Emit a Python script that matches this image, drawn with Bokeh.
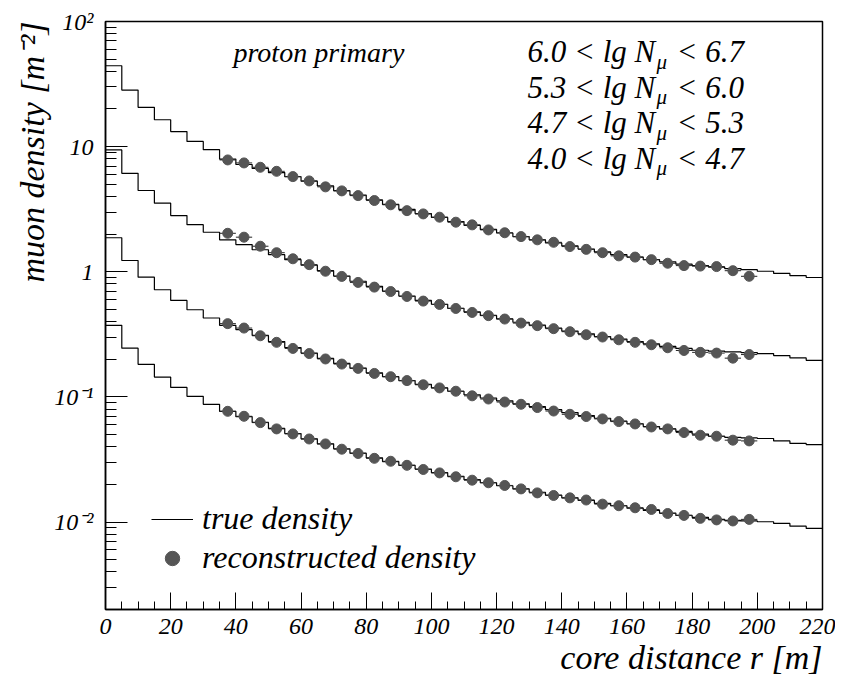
import numpy as np
from bokeh.plotting import figure
from bokeh.models import Range1d, FixedTicker, Label, Legend, LegendItem, Title
from bokeh.embed import file_html
from bokeh.resources import INLINE

# ---------------- data ----------------
bin_edges = list(range(0, 225, 5))          # 44 bins of 5 m, 0..220 m

true_1 = [44.3, 28.3, 20.6, 16.4, 13.2, 11.0, 9.45, 7.95, 7.2, 6.7,
          6.2, 5.75, 5.3, 4.85, 4.45, 4.1, 3.75, 3.45, 3.15, 2.92,
          2.72, 2.52, 2.35, 2.18, 2.04, 1.91, 1.80, 1.70, 1.61, 1.52,
          1.44, 1.37, 1.31, 1.25, 1.20, 1.15, 1.12, 1.09, 1.06, 1.04,
          1.01, 0.97, 0.93, 0.90]
true_2 = [9.41, 6.12, 4.46, 3.53, 2.81, 2.38, 2.07, 1.80, 1.65, 1.50,
          1.37, 1.25, 1.13, 1.02, 0.925, 0.84, 0.765, 0.70, 0.64, 0.59,
          0.55, 0.51, 0.478, 0.448, 0.42, 0.395, 0.374, 0.354, 0.336, 0.319,
          0.304, 0.290, 0.277, 0.265, 0.253, 0.244, 0.236, 0.232, 0.229, 0.226,
          0.222, 0.214, 0.205, 0.196]
true_3 = [1.87, 1.23, 0.906, 0.718, 0.590, 0.497, 0.427, 0.373, 0.345, 0.310,
          0.277, 0.248, 0.224, 0.203, 0.185, 0.170, 0.156, 0.145, 0.135, 0.126,
          0.118, 0.111, 0.104, 0.098, 0.093, 0.088, 0.0835, 0.079, 0.075, 0.071,
          0.0675, 0.064, 0.061, 0.058, 0.0555, 0.053, 0.0505, 0.0485, 0.0475, 0.047,
          0.0465, 0.0445, 0.0425, 0.0416]
true_4 = [0.373, 0.245, 0.182, 0.144, 0.119, 0.101, 0.0873, 0.0767, 0.0695, 0.0625,
          0.056, 0.051, 0.0462, 0.0422, 0.0385, 0.0355, 0.0326, 0.0304, 0.0284, 0.0265,
          0.0248, 0.0232, 0.0218, 0.0206, 0.0195, 0.0184, 0.0173, 0.0164, 0.0156, 0.0149,
          0.0141, 0.0135, 0.0129, 0.0124, 0.0118, 0.0113, 0.0109, 0.0105, 0.0103, 0.0102,
          0.01005, 0.00975, 0.00927, 0.00889]

reco_r = [37.5 + 5 * i for i in range(33)]   # bin centres 37.5 .. 197.5 m
reco_1 = [7.83, 7.41, 6.84, 6.35, 5.76, 5.32, 4.77, 4.43, 4.06, 3.71,
          3.43, 3.08, 2.90, 2.73, 2.49, 2.37, 2.16, 2.05, 1.91, 1.80,
          1.72, 1.59, 1.51, 1.42, 1.34, 1.31, 1.25, 1.17, 1.12, 1.11,
          1.10, 1.02, 0.92]
reco_2 = [2.03, 1.89, 1.60, 1.42, 1.27, 1.14, 1.01, 0.918, 0.822, 0.754,
          0.695, 0.635, 0.583, 0.548, 0.509, 0.473, 0.446, 0.419, 0.389, 0.371,
          0.351, 0.332, 0.314, 0.301, 0.286, 0.273, 0.261, 0.247, 0.235, 0.227,
          0.224, 0.204, 0.218]
reco_3 = [0.385, 0.355, 0.308, 0.273, 0.244, 0.222, 0.201, 0.183, 0.169, 0.154,
          0.145, 0.135, 0.125, 0.118, 0.111, 0.102, 0.0962, 0.091, 0.0873, 0.0822,
          0.0771, 0.0726, 0.0697, 0.0667, 0.0635, 0.0608, 0.0575, 0.0555, 0.0519, 0.0494,
          0.0485, 0.0451, 0.0445]
reco_4 = [0.0767, 0.070, 0.0623, 0.0555, 0.0506, 0.0461, 0.0421, 0.0382, 0.0353, 0.0323,
          0.0306, 0.0284, 0.0263, 0.0247, 0.0230, 0.0216, 0.0206, 0.0196, 0.0184, 0.0171,
          0.0163, 0.0156, 0.0150, 0.0139, 0.0135, 0.0130, 0.0126, 0.0117, 0.0113, 0.0107,
          0.0104, 0.0102, 0.0105]
bin_half = 2.5

lgN_low = ["6.0", "5.3", "4.7", "4.0"]
lgN_high = ["6.7", "6.0", "5.3", "4.7"]

x_ticks = list(range(0, 221, 20))
x_minor = list(range(0, 221, 5))
y_ticks = [0.01, 0.1, 1, 10, 100]
y_tick_labels = ["10\u207b\u00b2", "10\u207b\u00b9", "1", "10", "10\u00b2"]

# ---------------- figure ----------------
W, H = 835, 684
BL, BR, BT, BB = 105, 13, 21, 75
FW, FH = W - BL - BR, H - BT - BB
X0, X1 = 0, 220
Y0, Y1 = 0.002, 100
FONT = "Liberation Serif"

p = figure(width=W, height=H, output_backend="svg", toolbar_location=None,
           x_range=Range1d(X0, X1), y_range=Range1d(Y0, Y1), y_axis_type="log",
           min_border_left=BL, min_border_right=BR, min_border_top=BT, min_border_bottom=BB)
p.background_fill_color = "white"
p.border_fill_color = "white"
p.outline_line_color = "black"
p.outline_line_width = 1.5
p.xgrid.visible = False
p.ygrid.visible = False

xa = p.xaxis[0]
xa.ticker = FixedTicker(ticks=x_ticks, minor_ticks=x_minor)
xa.major_tick_in, xa.major_tick_out = 17, 0
xa.minor_tick_in, xa.minor_tick_out = 8, 0
xa.axis_line_color = "black"
xa.axis_line_width = 1.5
xa.major_tick_line_color = "black"
xa.minor_tick_line_color = "black"
xa.major_label_text_font = FONT
xa.major_label_text_font_style = "italic"
xa.major_label_text_font_size = "24px"
xa.major_label_text_color = "black"
xa.major_label_standoff = 9

ya = p.yaxis[0]
y_minor = [m * 10.0 ** e for e in range(-3, 2) for m in range(2, 10) if m * 10.0 ** e >= Y0]
ya.ticker = FixedTicker(ticks=y_ticks, minor_ticks=y_minor)
ya.major_tick_in, ya.major_tick_out = 22, 0
ya.minor_tick_in, ya.minor_tick_out = 11, 0
ya.axis_line_color = "black"
ya.axis_line_width = 1.5
ya.major_tick_line_color = "black"
ya.minor_tick_line_color = "black"
ya.major_label_overrides = {t: s for t, s in zip(y_ticks, y_tick_labels)}
ya.major_label_text_font = FONT
ya.major_label_text_font_style = "italic"
ya.major_label_text_font_size = "24px"
ya.major_label_text_color = "black"
ya.major_label_standoff = 12

# axis titles (as panel titles so they are not clipped to the frame)
p.add_layout(Title(text="core distance r [m]", align="right", standoff=0,
                   text_font=FONT, text_font_style="italic", text_font_size="34px",
                   text_color="black"), "below")
p.add_layout(Title(text="muon density [m\u207b\u00b2]", align="right", standoff=2,
                   text_font=FONT, text_font_style="italic", text_font_size="34px",
                   text_color="black"), "left")

# ---------------- glyphs ----------------
step_renderers = []
for vals in (true_1, true_2, true_3, true_4):
    r = p.step(x=bin_edges, y=vals + [vals[-1]], mode="after",
               line_color="black", line_width=1.2)
    step_renderers.append(r)

dot_renderers = []
for vals in (reco_1, reco_2, reco_3, reco_4):
    xs = np.array(reco_r)
    p.segment(x0=xs - bin_half, y0=vals, x1=xs + bin_half, y1=vals,
              line_color="#222222", line_width=1)
    r = p.scatter(x=reco_r, y=vals, size=10, marker="circle",
                  fill_color="#555555", line_color="#555555")
    dot_renderers.append(r)

legend = Legend(items=[LegendItem(label="true density", renderers=[step_renderers[0]]),
                       LegendItem(label="reconstructed density", renderers=[dot_renderers[0]])],
                location=(46, 33), orientation="vertical", padding=0, margin=0, spacing=2,
                glyph_width=42, glyph_height=36, label_height=36, label_standoff=9,
                label_text_font=FONT, label_text_font_style="italic",
                label_text_font_size="32px", label_text_color="black",
                border_line_alpha=0, background_fill_alpha=0)
p.add_layout(legend)

# ---------------- in-frame text placed by page pixel ----------------
DEC = FH / np.log10(Y1 / Y0)


def px2x(px):
    return X0 + (px - BL) * (X1 - X0) / FW


def py2y(py):
    return 10 ** (np.log10(Y1) - (py - BT) / DEC)


def add_text(txt, px, py, size, align="left"):
    p.add_layout(Label(x=px2x(px), y=py2y(py), text=txt, text_font=FONT,
                       text_font_style="italic", text_font_size=f"{size}px",
                       text_color="black", text_align=align,
                       text_baseline="alphabetic"))


add_text("proton primary", 233, 52, 28)
for i, (lo, hi) in enumerate(zip(lgN_low, lgN_high)):
    yb = 51 + 35.5 * i
    add_text(f"{lo} < lg N", 527, yb, 31)
    add_text("\u03bc", 656, yb + 10, 21)
    add_text(f"< {hi}", 676, yb, 31)

open("out.html", "w").write(file_html(p, INLINE))
